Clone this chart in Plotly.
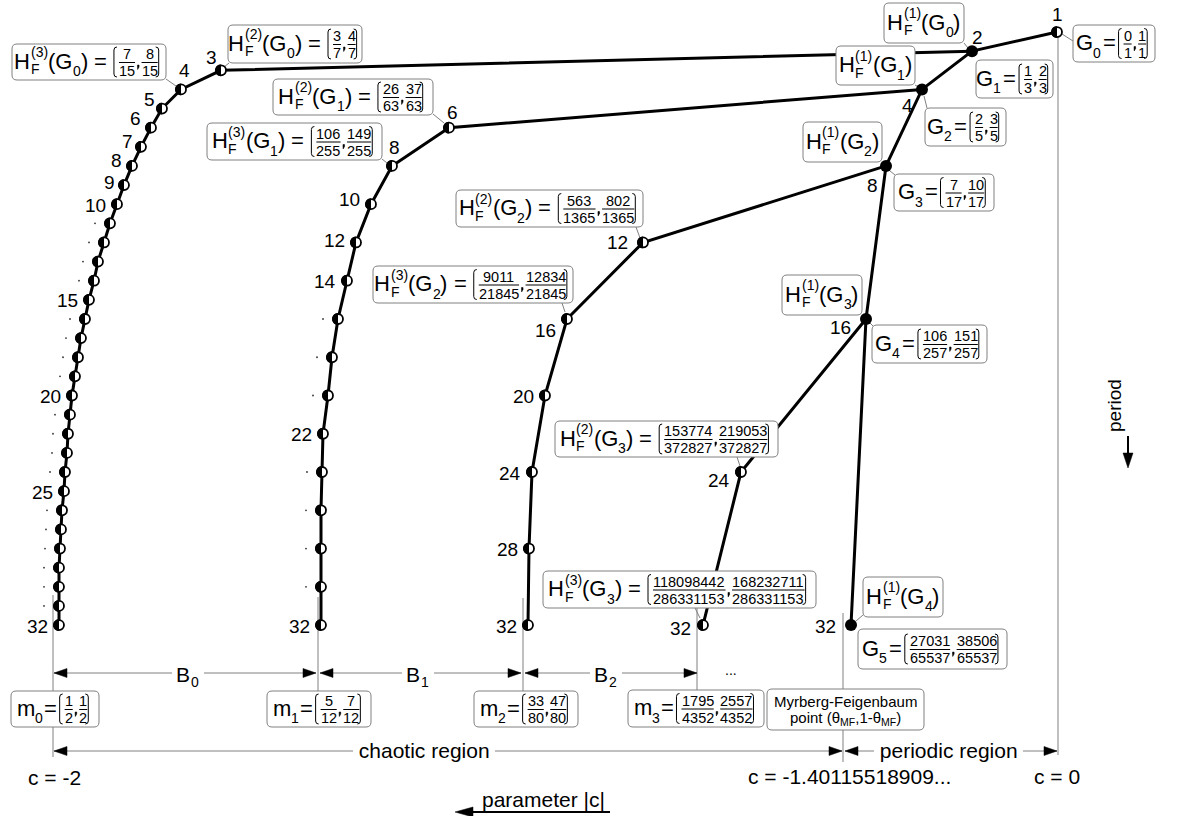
import math
import plotly.graph_objects as go

W, H = 1177, 816
# vertical calibration: pixel row = Y0 + DY * period
Y0, DY = 12.9, 19.13

# ---------------- data ----------------
# main (periodic) chain G_0 .. G_5 : schematic parameter position vs period
main_period = [1, 2, 4, 8, 16, 32]
main_pos = [1057, 972, 922, 886, 866, 851]

# branch of H_F^(n)(G_0): periods 3..32
b0_period = [3, 4, 5, 6, 7, 8, 9, 10, 11, 12, 13, 14, 15, 16, 17, 18, 19, 20, 21, 22,
             23, 24, 25, 26, 27, 28, 29, 30, 31, 32]
b0_pos = [221, 181, 162, 151, 141, 132, 124, 117, 110, 104, 98, 94, 89, 85, 81, 78, 75, 72,
          70, 68, 67, 65, 64, 62, 61, 60, 59, 59, 59, 59]
# branch of H_F^(n)(G_1): periods 6..32
b1_period = [6, 8, 10, 12, 14, 16, 18, 20, 22, 24, 26, 28, 30, 32]
b1_pos = [449, 392, 371, 356, 347, 338, 332, 328, 323, 322, 321, 321, 321, 321]
# branch of H_F^(n)(G_2)
b2_period = [12, 16, 20, 24, 28, 32]
b2_pos = [643, 567, 545, 532, 529, 528]
# branch of H_F^(n)(G_3)
b3_period = [24, 32]
b3_pos = [741, 703]

# shown period labels
main_labels = ["1", "2", "4", "8", "16", "32"]
b0_labels = {3: "3", 4: "4", 5: "5", 6: "6", 7: "7", 8: "8", 9: "9", 10: "10",
             15: "15", 20: "20", 25: "25", 32: "32"}
b1_labels = {6: "6", 8: "8", 10: "10", 12: "12", 14: "14", 22: "22", 32: "32"}
b2_labels = {12: "12", 16: "16", 20: "20", 24: "24", 28: "28", 32: "32"}
b3_labels = {24: "24", 32: "32"}

FONT = "Liberation Sans, Arial, Helvetica, sans-serif"
FS_MAIN, FS_SMALL, FS_FRAC = 22, 14, 14.5
GRAY = "#808080"


def P(py):
    return (py - Y0) / DY


def pt(px, py):
    return f"{px:.2f},{P(py):.5f}"


shapes = []
anns = []


def ann(x, py, s, size, xanchor="center", yanchor="middle", bg=None, **kw):
    d = dict(x=x, y=P(py), xref="x", yref="y", text=s, showarrow=False,
             font=dict(family=FONT, size=size, color="black"),
             xanchor=xanchor, yanchor=yanchor, borderpad=0, borderwidth=0)
    if bg:
        d["bgcolor"] = bg
    d.update(kw)
    anns.append(d)


def seg(x0, y0, x1, y1, color=GRAY, width=1, layer="above"):
    shapes.append(dict(type="line", xref="x", yref="y", x0=x0, y0=P(y0), x1=x1, y1=P(y1),
                       line=dict(color=color, width=width), layer=layer))


def path(d, fill=None, color="black", width=1, layer="above"):
    s = dict(type="path", xref="x", yref="y", path=d, layer=layer,
             line=dict(color=color, width=width))
    if fill:
        s["fillcolor"] = fill
    shapes.append(s)


def whiterect(x0, y0, x1, y1):
    shapes.append(dict(type="rect", xref="x", yref="y", x0=x0, x1=x1, y0=P(y0), y1=P(y1),
                       fillcolor="white", line=dict(width=0), layer="above"))


def head(xt, yt, direction, length=13, half=4.5):
    if direction == "left":
        d = f"M{pt(xt, yt)} L{pt(xt + length, yt - half)} L{pt(xt + length, yt + half)} Z"
    elif direction == "right":
        d = f"M{pt(xt, yt)} L{pt(xt - length, yt - half)} L{pt(xt - length, yt + half)} Z"
    else:  # down
        d = f"M{pt(xt, yt)} L{pt(xt - half, yt - length)} L{pt(xt + half, yt - length)} Z"
    path(d, fill="black", color="black", width=0.5)


def rrect(x0, y0, x1, y1, r=5):
    d = (f"M{pt(x0 + r, y0)} L{pt(x1 - r, y0)} Q{pt(x1, y0)} {pt(x1, y0 + r)} "
         f"L{pt(x1, y1 - r)} Q{pt(x1, y1)} {pt(x1 - r, y1)} L{pt(x0 + r, y1)} "
         f"Q{pt(x0, y1)} {pt(x0, y1 - r)} L{pt(x0, y0 + r)} Q{pt(x0, y0)} {pt(x0 + r, y0)} Z")
    path(d, fill="white", color=GRAY, width=1)


# Arial / Liberation Sans advance widths (1/1000 em)
AW = {' ': 278, 'H': 722, 'F': 611, 'G': 778, 'm': 833, '(': 333, ')': 333, '=': 584,
      ',': 278, '.': 278, '-': 333}
for dch in "0123456789":
    AW[dch] = 556


def tw(s, size):
    return sum(AW.get(ch, 556) for ch in s) * size / 1000.0


MAIN_DY, SUP_DY, SUBF_DY, SUB_DY = -1, -10, 7, 9
NUM_DY, DEN_DY, COMMA_DY, BR = -8, 9, 6, 15


def build(tokens):
    ops = []
    cur = 0.0
    for tk in tokens:
        k = tk[0]
        if k == "T":
            ops.append(("t", cur, MAIN_DY, tk[1], FS_MAIN))
            cur += tw(tk[1], FS_MAIN)
        elif k == "GAP":
            cur += tk[1]
        elif k == "SS":
            w = max(tw(tk[1], FS_SMALL), tw(tk[2], FS_SMALL))
            ops.append(("t", cur + 0.5, SUP_DY, tk[1], FS_SMALL))
            ops.append(("t", cur + 0.5, SUBF_DY, tk[2], FS_SMALL))
            cur += w + 1
        elif k == "SUB":
            ops.append(("t", cur, SUB_DY, tk[1], FS_SMALL))
            cur += tw(tk[1], FS_SMALL)
        elif k == "FR":
            cur += 1
            ops.append(("lb", cur))
            cur += 4
            for i, (n, dd) in enumerate(tk[1]):
                if i:
                    ops.append(("comma", cur + 2.2))
                    cur += 4.5
                fw = max(tw(n, FS_FRAC), tw(dd, FS_FRAC)) + 2
                ops.append(("tc", cur + fw / 2, NUM_DY, n, FS_FRAC))
                ops.append(("tc", cur + fw / 2, DEN_DY, dd, FS_FRAC))
                ops.append(("bar", cur + 1, cur + fw - 1))
                cur += fw
            ops.append(("rb", cur))
            cur += 5
    return cur, ops


def place(x0, y0, x1, y1, tokens):
    rrect(x0, y0, x1, y1)
    w, ops = build(tokens)
    cx, cy = (x0 + x1) / 2, (y0 + y1) / 2
    L = cx - w / 2
    for op in ops:
        if op[0] == "t":
            ann(L + op[1], cy + op[2], op[3], op[4], xanchor="left")
        elif op[0] == "tc":
            ann(L + op[1], cy + op[2], op[3], op[4], xanchor="center")
        elif op[0] == "bar":
            seg(L + op[1], cy + 0.5, L + op[2], cy + 0.5, color="black", width=1)
        elif op[0] == "comma":
            x = L + op[1]
            path(f"M{pt(x - 0.8, cy + 3)} L{pt(x + 0.8, cy + 3)} L{pt(x + 0.8, cy + 5)} "
                 f"L{pt(x - 0.6, cy + 7.5)} L{pt(x - 0.8, cy + 5)} Z",
                 fill="black", color="black", width=0.5)
        elif op[0] == "lb":
            x = L + op[1]
            path(f"M{pt(x + 3, cy - BR)} Q{pt(x, cy - BR)} {pt(x, cy - BR + 3)} "
                 f"L{pt(x, cy + BR - 3)} Q{pt(x, cy + BR)} {pt(x + 3, cy + BR)}")
        elif op[0] == "rb":
            x = L + op[1]
            path(f"M{pt(x - 3, cy - BR)} Q{pt(x, cy - BR)} {pt(x, cy - BR + 3)} "
                 f"L{pt(x, cy + BR - 3)} Q{pt(x, cy + BR)} {pt(x - 3, cy + BR)}")


def HF(k, g):
    return [("T", "H"), ("SS", f"({k})", "F"), ("T", "(G"), ("SUB", str(g)), ("T", ")")]


EQ = [("T", " = ")]


def FR(pairs):
    return [("FR", pairs)]


def GG(i):
    return [("T", "G"), ("SUB", str(i)), ("GAP", 2), ("T", "="), ("GAP", 2)]


def MM(i):
    return [("T", "m"), ("SUB", str(i)), ("GAP", 1), ("T", "="), ("GAP", 2)]


# ---------------- gray guide lines (below) ----------------
for (x, ya, yb) in [(53, 595, 757), (318, 597, 691), (523, 598, 691), (697, 608, 691),
                    (843, 613, 762), (1058, 35, 755)]:
    seg(x, ya, x, yb, layer="below")

# ---------------- figure traces ----------------
fig = go.Figure()
line_style = dict(color="black", width=3)
fig.add_trace(go.Scatter(x=main_pos, y=main_period, mode="lines", line=line_style, hoverinfo="skip"))
branches = [(b0_pos, b0_period, 1), (b1_pos, b1_period, 2), (b2_pos, b2_period, 3), (b3_pos, b3_period, 4)]
for bx, bp, root in branches:
    fig.add_trace(go.Scatter(x=[main_pos[root]] + bx, y=[main_period[root]] + bp, mode="lines",
                             line=line_style, hoverinfo="skip"))

# half-filled nodes: white base markers
half_x = [main_pos[0]] + b0_pos + b1_pos + b2_pos + b3_pos
half_p = [main_period[0]] + b0_period + b1_period + b2_period + b3_period
fig.add_trace(go.Scatter(x=half_x, y=half_p, mode="markers",
                         marker=dict(size=10, color="white", line=dict(color="black", width=1.8)),
                         hoverinfo="skip"))
# filled nodes of the main chain
fig.add_trace(go.Scatter(x=main_pos[1:], y=main_period[1:], mode="markers",
                         marker=dict(size=12, color="black"), hoverinfo="skip"))

# left black halves
R = 5.9
poly = []
for i in range(17):
    th = math.pi / 2 + math.pi * i / 16
    poly.append((R * math.cos(th), R * math.sin(th)))
half_path = "M" + " L".join(f"{a:.2f},{b:.2f}" for a, b in poly) + " Z"
for x, p in zip(half_x, half_p):
    shapes.append(dict(type="path", xref="x", yref="y", xsizemode="pixel", ysizemode="pixel",
                       xanchor=x, yanchor=p, path=half_path, fillcolor="black",
                       line=dict(width=0), layer="above"))

# ---------------- period labels ----------------
FS_LAB = 19


def plab(x, p, s, xanchor, dx, dy):
    anns.append(dict(x=x, y=p, xref="x", yref="y", text=s, showarrow=False,
                     font=dict(family=FONT, size=FS_LAB, color="black"),
                     xanchor=xanchor, yanchor="middle", xshift=dx, yshift=-dy))


def tinydot(x, p, dx):
    shapes.append(dict(type="circle", xref="x", yref="y", xsizemode="pixel", ysizemode="pixel",
                       xanchor=x, yanchor=p, x0=dx - 0.9, x1=dx + 0.9, y0=-0.9, y1=0.9,
                       fillcolor="#333333", line=dict(width=0), layer="above"))


main_off = {1: ("center", 0, -18), 2: ("center", 5, -14), 4: ("center", -15, 16),
            8: ("center", -14, 20), 16: ("right", -13, 9), 32: ("right", -13, 1)}
for x, p, s in zip(main_pos, main_period, main_labels):
    a, dx, dy = main_off[p]
    plab(x, p, s, a, dx, dy)

b0_off = {3: ("center", -10, -13), 4: ("center", 3, -19), 5: ("center", -13, -9),
          6: ("center", -16, -9), 7: ("center", -14, -5), 8: ("center", -16, -5),
          9: ("center", -15, -3)}
b1_off = {6: ("center", 3, -15), 8: ("center", 2, -18), 10: ("right", -9, -5), 12: ("right", -9, -2)}
b2_off = {12: ("right", -13, 0), 16: ("right", -9, 12)}
b3_off = {24: ("right", -9, 8), 32: ("right", -10, 3)}
for bx, bp, labels, off in [(b0_pos, b0_period, b0_labels, b0_off),
                            (b1_pos, b1_period, b1_labels, b1_off),
                            (b2_pos, b2_period, b2_labels, b2_off),
                            (b3_pos, b3_period, b3_labels, b3_off)]:
    for x, p in zip(bx, bp):
        if p in labels:
            a, dx, dy = off.get(p, ("right", -9, 1))
            plab(x, p, labels[p], a, dx, dy)
        else:
            tinydot(x, p, -15)

# ---------------- label boxes ----------------
boxes = [
    (12, 44, 166, 80, HF(3, 0) + EQ + FR([("7", "15"), ("8", "15")]), (166, 79, 176, 86)),
    (228, 25, 362, 63, HF(2, 0) + EQ + FR([("3", "7"), ("4", "7")]), (229, 63, 224, 67)),
    (273, 79, 433, 115, HF(2, 1) + EQ + FR([("26", "63"), ("37", "63")]), (433, 114, 444, 123)),
    (207, 123, 382, 160, HF(3, 1) + EQ + FR([("106", "255"), ("149", "255")]), (382, 159, 387, 163)),
    (456, 190, 643, 227, HF(2, 2) + EQ + FR([("563", "1365"), ("802", "1365")]), (636, 227, 640, 238)),
    (373, 266, 573, 303, HF(3, 2) + EQ + FR([("9011", "21845"), ("12834", "21845")]), (562, 303, 565, 312)),
    (555, 421, 778, 457, HF(2, 3) + EQ + FR([("153774", "372827"), ("219053", "372827")]), (737, 457, 740, 466)),
    (543, 571, 816, 608, HF(3, 3) + EQ + FR([("118098442", "286331153"), ("168232711", "286331153")]),
     (695, 608, 700, 618)),
    (884, 3, 964, 43, HF(1, 0), (964, 43, 968, 48)),
    (836, 46, 915, 85, HF(1, 1), (915, 85, 918, 87)),
    (803, 122, 882, 162, HF(1, 2), None),
    (782, 275, 862, 315, HF(1, 3), None),
    (863, 577, 943, 617, HF(1, 4), (863, 615, 856, 621)),
    (1073, 25, 1155, 62, GG(0) + FR([("0", "1"), ("1", "1")]), (1073, 41, 1062, 34)),
    (976, 60, 1053, 98, GG(1) + FR([("1", "3"), ("2", "3")]), None),
    (925, 108, 1006, 146, GG(2) + FR([("2", "5"), ("3", "5")]), (924, 96, 927, 108)),
    (894, 174, 994, 211, GG(3) + FR([("7", "17"), ("10", "17")]), (890, 171, 895, 175)),
    (872, 325, 987, 363, GG(4) + FR([("106", "257"), ("151", "257")]), (869, 322, 873, 326)),
    (858, 629, 1007, 669, GG(5) + FR([("27031", "65537"), ("38506", "65537")]), None),
    (11, 691, 99, 727, MM(0) + FR([("1", "2"), ("1", "2")]), None),
    (267, 691, 371, 727, MM(1) + FR([("5", "12"), ("7", "12")]), None),
    (474, 691, 578, 727, MM(2) + FR([("33", "80"), ("47", "80")]), None),
    (628, 690, 764, 727, MM(3) + FR([("1795", "4352"), ("2557", "4352")]), None),
]
for x0, y0, x1, y1, toks, ptr in boxes:
    if ptr:
        seg(ptr[0], ptr[1], ptr[2], ptr[3], color=GRAY, width=1, layer="below")
    place(x0, y0, x1, y1, toks)

# Myrberg-Feigenbaum box
rrect(767, 689, 924, 730)
ann(845.5, 701, "Myrberg-Feigenbaum", 15)
ann(845.5, 718, "point (θ<sub>MF</sub>,1-θ<sub>MF</sub>)", 15)

# ---------------- bottom arrows ----------------
YB = 673
for (xa, xb, cx, lab) in [(54, 316, 188, "0"), (320, 521, 418, "1"), (525, 697, 606, "2")]:
    seg(xa, YB, xb, YB, color=GRAY)
    head(xa, YB, "left")
    head(xb, YB, "right")
    whiterect(cx - 16, YB - 8, cx + 16, YB + 8)
    ann(cx - 5, YB + 1, "B", 21)
    ann(cx + 7, YB + 9, lab, 14)
ann(731, 670, "...", 14)

YC = 751
seg(54, YC, 842, YC, color=GRAY)
head(54, YC, "left")
head(842, YC, "right")
ann(424, YC - 1, " chaotic region ", 21, bg="white")
seg(845, YC, 1057, YC, color=GRAY)
head(845, YC, "left")
head(1057, YC, "right")
ann(948, YC - 1, " periodic region ", 21, bg="white")

ann(54, 777, "c = -2", 21)
ann(849, 776, "c = -1.40115518909...", 21)
ann(1057, 776, "c = 0", 21)

ann(543, 799, "parameter |c|", 21)
seg(470, 812, 610, 812, color="black", width=2)
head(455, 812, "left", length=18, half=5)

# period arrow
ann(1114, 406, "period", 19, textangle=-90)
seg(1128, 436, 1128, 455, color="black", width=2)
head(1128, 468, "down", length=15, half=5)

fig.update_layout(
    width=W, height=H, margin=dict(l=0, r=0, t=0, b=0),
    paper_bgcolor="white", plot_bgcolor="white", showlegend=False,
    xaxis=dict(range=[0, W], visible=False, showgrid=False, zeroline=False),
    yaxis=dict(range=[P(H), P(0)], visible=False, showgrid=False, zeroline=False),
    shapes=shapes, annotations=anns,
)

fig.write_html("out.html", include_plotlyjs=True,
               config={"displayModeBar": False, "staticPlot": True},
               post_script="document.body.style.margin='0';document.body.style.overflow='hidden';")
